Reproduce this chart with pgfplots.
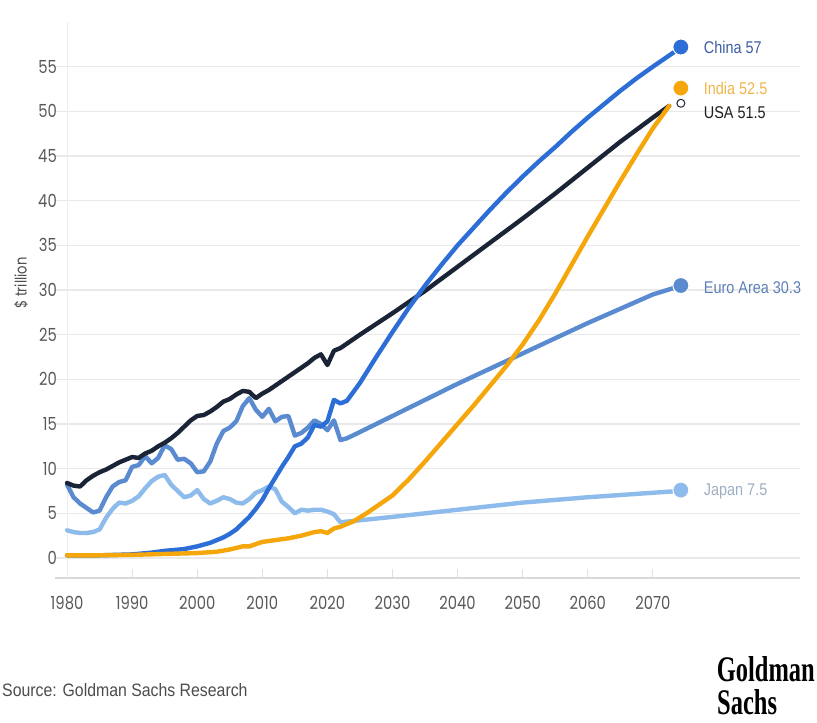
\documentclass[border=0pt]{standalone}
\usepackage{fontspec}
\usepackage{pgfplots}
\pgfplotsset{compat=1.18}
\setmainfont{Liberation Sans}
\newfontfamily\tickfont[FakeStretch=0.82]{Poppins}
\newfontfamily\labfont[FakeStretch=0.85]{Liberation Sans}
\newfontfamily\srcfont[FakeStretch=0.88]{Liberation Sans}
\newfontfamily\logofont[FakeStretch=0.68]{Liberation Serif}
\definecolor{cChina}{HTML}{2C6ED5}
\definecolor{cIndia}{HTML}{F4A60A}
\definecolor{cUSA}{HTML}{1B2436}
\definecolor{cEuro}{HTML}{5A8AD0}
\definecolor{cJapan}{HTML}{8DBBEB}
\definecolor{gridc}{HTML}{E9E9E9}
\definecolor{tChina}{HTML}{3B5CA3}
\definecolor{tIndia}{HTML}{F0B44A}
\definecolor{tUSA}{HTML}{1E1E1E}
\definecolor{tEuro}{HTML}{5E80B8}
\definecolor{tJapan}{HTML}{A0AEC2}
\begin{document}
\begin{tikzpicture}
\useasboundingbox (0,0) rectangle (817pt,723pt);
\begin{axis}[
  at={(55pt,145pt)}, anchor=south west,
  scale only axis, width=745pt, height=556pt,
  xmin=1978.15, xmax=2092.6, ymin=-2.24, ymax=60,
  clip=false,
  axis x line*=bottom,
  x axis line style={-, draw=black!15, line width=1.2pt},
  y axis line style={draw=none},
  xtick={1980,1990,...,2070},
  xticklabels={1980,1990,2000,2010,2020,2030,2040,2050,2060,2070},
  ytick={0,5,...,55},
  yticklabels={0,5,10,15,20,25,30,35,40,45,50,55},
  ymajorgrids,
  major grid style={draw=gridc, line width=1.4pt},
  xtick style={draw=black!12, line width=1pt},
  ytick style={draw=none},
  tick align=inside, major tick length=9pt,
  extra x ticks={1980}, extra x tick labels={},
  extra x tick style={xmajorgrids, major grid style={draw=black!7, line width=1pt}, xtick style={draw=none}},
  x tick label style={font=\tickfont\fontsize{18}{18}\selectfont, text=black!65, anchor=north, inner sep=0pt, yshift=-18pt},
  y tick label style={font=\tickfont\fontsize{18}{18}\selectfont, text=black!65, anchor=east, inner sep=0pt, xshift=2pt},
  every axis plot/.append style={line width=4.4pt, line join=round, line cap=round},
]
% Japan
\addplot[cJapan, mark=none] coordinates {
(1980,3.1)(1981,2.9)(1982,2.8)(1983,2.8)(1984,2.9)(1985,3.2)(1986,4.5)(1987,5.5)(1988,6.2)(1989,6.1)
(1990,6.4)(1991,6.9)(1992,7.8)(1993,8.6)(1994,9.1)(1995,9.3)(1996,8.2)(1997,7.5)(1998,6.8)(1999,7.0)
(2000,7.6)(2001,6.6)(2002,6.1)(2003,6.4)(2004,6.8)(2005,6.6)(2006,6.2)(2007,6.1)(2008,6.6)(2009,7.3)
(2010,7.6)(2011,8.0)(2012,7.7)(2013,6.3)(2014,5.7)(2015,5.0)(2016,5.4)(2017,5.3)(2018,5.4)(2019,5.4)
(2020,5.2)(2021,4.9)(2022,4.0)(2030,4.6)(2040,5.4)(2050,6.2)(2060,6.8)(2074,7.5)};
% Euro Area
\addplot[cEuro, mark=none] coordinates {
(1980,8.2)(1981,6.8)(1982,6.1)(1983,5.6)(1984,5.1)(1985,5.3)(1986,6.8)(1987,8.0)(1988,8.5)(1989,8.7)
(1990,10.2)(1991,10.4)(1992,11.4)(1993,10.6)(1994,11.2)(1995,12.6)(1996,12.2)(1997,11.0)(1998,11.1)(1999,10.6)
(2000,9.6)(2001,9.7)(2002,10.8)(2003,12.8)(2004,14.2)(2005,14.6)(2006,15.3)(2007,17.0)(2008,17.9)(2009,16.6)
(2010,15.8)(2011,16.7)(2012,15.3)(2013,15.8)(2014,15.9)(2015,13.7)(2016,14.0)(2017,14.6)(2018,15.4)(2019,15.0)
(2020,14.3)(2021,15.4)(2022,13.2)(2023,13.4)(2025,14.1)(2030,15.9)(2035,17.7)(2040,19.5)(2045,21.2)
(2050,22.9)(2055,24.6)(2060,26.3)(2065,27.9)(2070,29.5)(2074,30.4)};
% USA
\addplot[cUSA, mark=none] coordinates {
(1980,8.4)(1981,8.1)(1982,8.0)(1983,8.7)(1984,9.2)(1985,9.6)(1986,9.9)(1987,10.3)(1988,10.7)(1989,11.0)
(1990,11.3)(1991,11.2)(1992,11.7)(1993,12.0)(1994,12.5)(1995,12.9)(1996,13.4)(1997,14.0)(1998,14.7)(1999,15.4)
(2000,15.9)(2001,16.0)(2002,16.4)(2003,16.9)(2004,17.5)(2005,17.8)(2006,18.3)(2007,18.7)(2008,18.6)(2009,17.9)
(2010,18.4)(2011,18.8)(2012,19.3)(2013,19.8)(2014,20.3)(2015,20.8)(2016,21.3)(2017,21.8)(2018,22.4)(2019,22.8)
(2020,21.6)(2021,23.2)(2022,23.5)(2023,24.0)(2025,25.0)(2030,27.4)(2035,29.9)(2040,32.6)(2045,35.3)
(2050,38.0)(2055,40.8)(2060,43.7)(2065,46.6)(2070,49.3)(2072.5,50.6)};
% China
\addplot[cChina, mark=none] coordinates {
(1980,0.3)(1985,0.3)(1990,0.4)(1993,0.6)(1995,0.8)(1998,1.0)(2000,1.3)(2002,1.7)(2004,2.3)(2005,2.7)
(2006,3.2)(2007,3.9)(2008,4.6)(2009,5.5)(2010,6.5)(2011,7.8)(2012,9.0)(2013,10.2)(2014,11.3)(2015,12.5)
(2016,12.8)(2017,13.5)(2018,14.9)(2019,14.7)(2020,15.3)(2021,17.7)(2022,17.3)(2023,17.6)(2025,19.6)
(2027.5,22.5)(2030,25.3)(2032.5,28.0)(2035,30.5)(2037.5,32.8)(2040,35.0)(2042.5,37.0)(2045,39.0)
(2047.5,40.9)(2050,42.7)(2052.5,44.4)(2055,46.0)(2057.5,47.7)(2060,49.3)(2062.5,50.8)(2065,52.3)
(2067.5,53.7)(2070,55.0)(2073.8,56.9)};
% India
\addplot[cIndia, mark=none] coordinates {
(1980,0.3)(1985,0.3)(1990,0.35)(1995,0.45)(2000,0.55)(2003,0.7)(2005,0.95)(2007,1.3)(2008,1.3)(2010,1.8)
(2012,2.0)(2014,2.2)(2016,2.5)(2018,2.9)(2019,3.0)(2020,2.8)(2021,3.3)(2022,3.5)(2024,4.1)(2026,5.0)
(2028,6.0)(2030,7.0)(2032.5,8.8)(2035,10.8)(2037.5,12.9)(2040,15.0)(2042.5,17.1)(2045,19.3)(2047.5,21.5)
(2050,23.9)(2052.5,26.6)(2055,29.6)(2057.5,32.8)(2060,36.0)(2062.5,39.1)(2065,42.2)(2067.5,45.2)
(2070,48.1)(2072.5,50.6)};
% end dots
\addplot[only marks, mark=*, mark size=4pt, mark options={fill=white, draw=cUSA, line width=1pt}] coordinates {(2074.3,50.9)};
\addplot[only marks, mark=*, mark size=8pt, mark options={fill=cChina, draw=white, line width=1pt}] coordinates {(2074.3,57.2)};
\addplot[only marks, mark=*, mark size=8pt, mark options={fill=cIndia, draw=white, line width=1pt}] coordinates {(2074.3,52.6)};
\addplot[only marks, mark=*, mark size=8pt, mark options={fill=cEuro, draw=white, line width=1pt}] coordinates {(2074.3,30.5)};
\addplot[only marks, mark=*, mark size=8pt, mark options={fill=cJapan, draw=white, line width=1pt}] coordinates {(2074.3,7.6)};
% labels
\begin{scope}[every node/.style={anchor=west, inner sep=0pt, font=\labfont\fontsize{17}{17}\selectfont}]
\node[text=tChina] at (axis cs:2077.8,57.2) {China 57};
\node[text=tIndia] at (axis cs:2077.8,52.6) {India 52.5};
\node[text=tUSA] at (axis cs:2077.8,49.9) {USA 51.5};
\node[text=tEuro] at (axis cs:2077.8,30.3) {Euro Area 30.3};
\node[text=tJapan] at (axis cs:2077.8,7.4) {Japan 7.5};
\end{scope}
\end{axis}
\node[rotate=90, font=\tickfont\fontsize{16}{16}\selectfont, text=black!70] at (21pt,440pt) {\$ trillion};
\node[anchor=base west, inner sep=0pt, font=\srcfont\fontsize{18}{18}\selectfont, text=black!70] at (2pt,26pt) {Source: Goldman Sachs Research};
\node[anchor=base east, inner sep=0pt, font=\logofont\bfseries\fontsize{36}{36}\selectfont] at (815pt,41pt) {Goldman};
\node[anchor=base west, inner sep=0pt, font=\logofont\bfseries\fontsize{36}{36}\selectfont] at (717pt,8pt) {Sachs};
\end{tikzpicture}
\end{document}
